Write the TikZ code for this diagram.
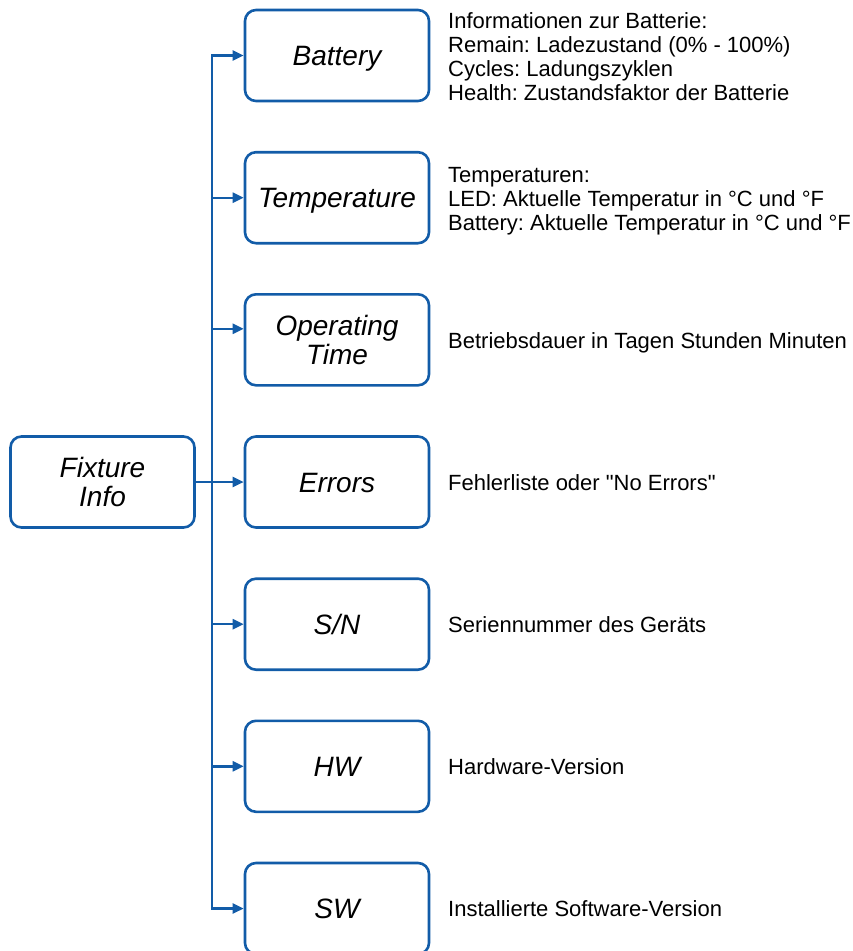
\documentclass[tikz,border=0pt]{standalone}
\usepackage{fontspec}
\setmainfont{Liberation Sans}
\usetikzlibrary{arrows.meta}
\definecolor{fxblue}{RGB}{18,92,168}
\newcommand{\straightquote}{\XeTeXglyph\XeTeXcharglyph34\relax}
\frenchspacing
\begin{document}
\begin{tikzpicture}[x=1pt,y=-1pt,
  box/.style={draw=fxblue, line width=2.6pt, rounded corners=11pt,
    minimum width=184pt, minimum height=91pt, align=center, inner sep=0pt,
    font=\fontsize{28}{28.5}\selectfont\itshape},
  single/.style={text height=20pt, text depth=0pt},
  desc/.style={anchor=base west, inner sep=0pt, font=\fontsize{22}{24}\selectfont},
  conn/.style={draw=fxblue, line width=2.4pt, -{Triangle[length=11pt,width=10pt]}}]
\useasboundingbox (0,0) rectangle (853,951);
\clip (0,0) rectangle (853,951);

\node[box] (fix) at (102.5,482) {Fixture\\Info};

\node[box,single] (bat) at (337,55.5)  {Battery};
\node[box,single] (tmp) at (337,197.7) {Temperature};
\node[box] (opt) at (337,339.8) {Operating\\Time};
\node[box,single] (err) at (337,482)   {Errors};
\node[box,single] (sn)  at (337,624.2) {S/N};
\node[box,single] (hw)  at (337,766.3) {HW};
\node[box,single] (sw)  at (337,908.5) {SW};

\coordinate (j) at (212,482);
\draw[conn] (fix.east) -- (err.west);
\draw[conn] (j) |- (bat.west);
\draw[conn] (j) |- (tmp.west);
\draw[conn] (j) |- ([yshift=11pt]opt.west);
\draw[conn] (j) |- (sn.west);
\draw[conn] (j) |- (hw.west);
\draw[conn] (j) |- (sw.west);

\node[desc] (tbat) at (448,28) {\vtop{\hbox{Informationen zur Batterie:}\hbox{Remain: Ladezustand (0\% - 100\%)}\hbox{Cycles: Ladungszyklen}\hbox{Health: Zustandsfaktor der Batterie}}};
\node[desc] (ttmp) at (448,182) {\vtop{\hbox{Temperaturen:}\hbox{LED: Aktuelle Temperatur in °C und °F}\hbox{Battery: Aktuelle Temperatur in °C und °F}}};
\node[desc] (topt) at (448,348) {Betriebsdauer in Tagen Stunden Minuten};
\node[desc] (terr) at (448,490) {Fehlerliste oder \straightquote No Errors\straightquote};
\node[desc] (tsn)  at (448,632) {Seriennummer des Geräts};
\node[desc] (thw)  at (448,774) {Hardware-Version};
\node[desc] (tsw)  at (448,916.5) {Installierte Software-Version};
\end{tikzpicture}
\end{document}
